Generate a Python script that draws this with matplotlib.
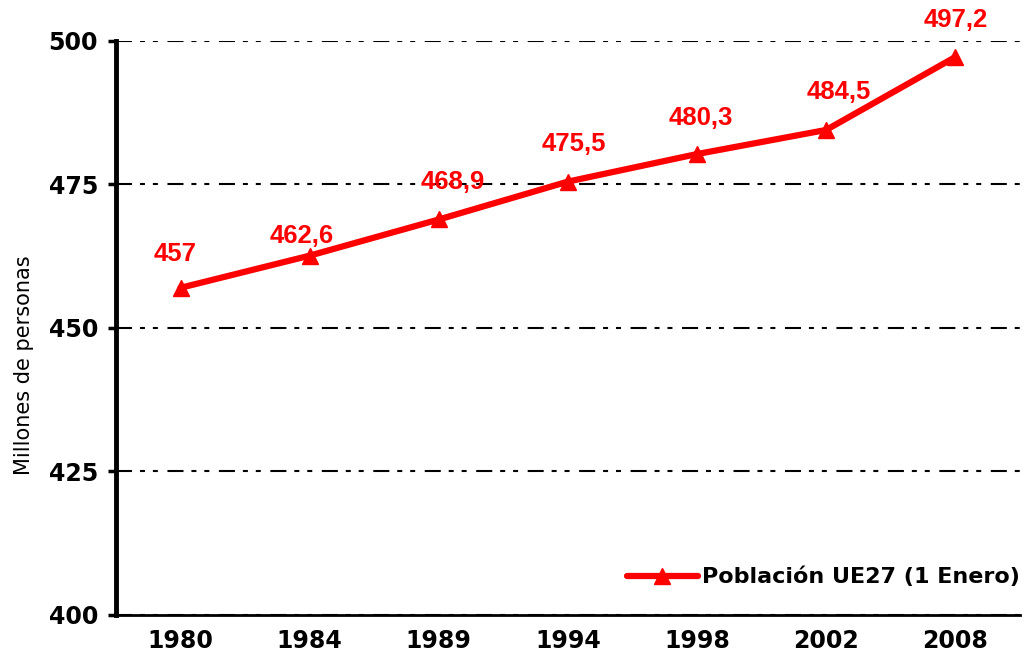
import matplotlib
matplotlib.use("Agg")
import matplotlib.pyplot as plt

years = ["1980", "1984", "1989", "1994", "1998", "2002", "2008"]
poblacion = [457.0, 462.6, 468.9, 475.5, 480.3, 484.5, 497.2]
etiquetas = ["457", "462,6", "468,9", "475,5", "480,3", "484,5", "497,2"]
yticks = [400, 425, 450, 475, 500]

# label nudges in points (dx, dy), moved by hand in the original
label_offsets = [(-4, 24), (-6, 14), (10, 27), (4, 27), (3, 26), (9, 27), (0, 27)]

fig = plt.figure(figsize=(10.26, 6.63), dpi=100)
ax = fig.add_axes([0.113, 0.0724, 0.881, 0.8658])

x = range(len(years))
ax.plot(x, poblacion, color="#ff0000", lw=4.5, marker="^", ms=11,
        solid_capstyle="round", label="Población UE27 (1 Enero)", zorder=3)

for xi, yi, txt, (dx, dy) in zip(x, poblacion, etiquetas, label_offsets):
    ax.annotate(txt, (xi, yi), xytext=(dx, dy), textcoords="offset points",
                ha="center", va="center", color="#ff0000",
                fontsize=18.5, fontweight="bold", family="Liberation Sans")

ax.set_xlim(-0.5, len(years) - 0.5)
ax.set_ylim(400, 500)
ax.set_yticks(yticks)
ax.set_xticks(list(x))
ax.set_xticklabels(years)

for t in ax.get_xticklabels() + ax.get_yticklabels():
    t.set_fontsize(17)
    t.set_fontweight("bold")
    t.set_family("DejaVu Sans")

ax.tick_params(axis="y", length=6, width=2.5, pad=7, direction="out")
ax.tick_params(axis="x", length=0, pad=10)

# dash-dot-dot grid, sizes relative to the 1.5 pt line width
ax.yaxis.grid(True, color="black", lw=1.5, linestyle=(0, (7.7, 3.8, 2.4, 3.8, 2.4, 4.6)))
ax.set_axisbelow(True)

ax.spines["top"].set_visible(False)
ax.spines["right"].set_visible(False)
ax.spines["left"].set_linewidth(3.5)
ax.spines["bottom"].set_linewidth(2)

ax.set_ylabel("Millones de personas", fontsize=15, family="DejaVu Sans")
ax.yaxis.set_label_coords(-0.091, 0.4355)

leg = ax.legend(loc="lower right", frameon=False, handlelength=3.2,
                prop={"family": "DejaVu Sans", "weight": "bold", "size": 16},
                bbox_to_anchor=(1.015, 0.025), handletextpad=0.2, borderaxespad=0.2)

fig.savefig("out.png", dpi=100)
